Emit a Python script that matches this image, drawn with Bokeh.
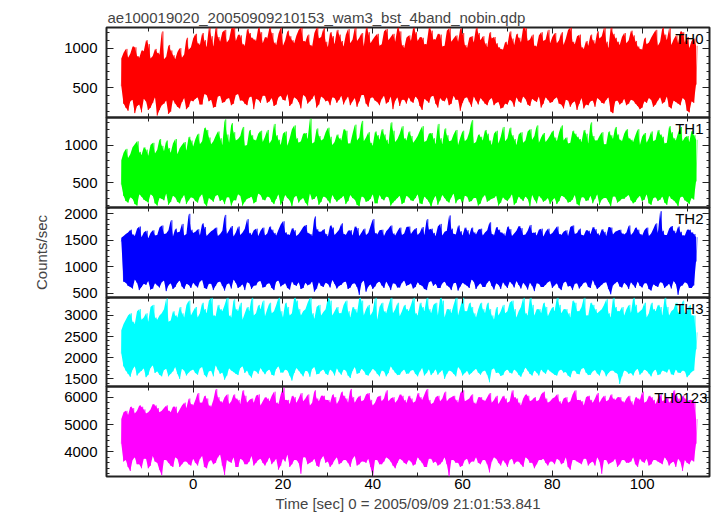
from bokeh.plotting import figure
from bokeh.layouts import column
from bokeh.models import Range1d, LinearAxis, SingleIntervalTicker, Label
from bokeh.embed import file_html
from bokeh.resources import INLINE

FONT = "Liberation Sans"

# time bins (sec): whole seconds (a) and half-second bins (b)
times = list(range(-16, 113))

# ---- TH0 ----
th0_hi = [870, 990, 930, 1010, 880, 960, 1050, 900, 940, 1210, 890, 970, 860, 1000, 920, 980,
          1120, 1060, 1190, 1010, 1150, 1260, 1080, 1230, 1110, 1260, 1170, 1050, 1240, 1130, 1090, 1200,
          1140, 1260, 1070, 1180, 1030, 1220, 1100, 1160, 1260, 1080, 1040, 1190, 1120, 1250, 1010, 1150,
          1230, 1090, 1170, 1060, 1260, 1130, 1020, 1200, 1110, 1180, 1050, 1240, 1140, 1080, 1210, 1000,
          1160, 1260, 1090, 1130, 1050, 1220, 1110, 1170, 1030, 1250, 1120, 1080, 1190, 1000, 1150, 1260,
          1100, 1060, 1200, 1140, 1010, 980, 1040, 1120, 1180, 1070, 1250, 1110, 1030, 1160, 1090, 1230,
          1140, 1060, 1200, 1120, 1260, 1050, 1170, 990, 1030, 1100, 1210, 1150, 1080, 1260, 1130, 1040,
          1190, 1100, 1160, 1020, 980, 1050, 1130, 1230, 1080, 1170, 1250, 1110, 1060, 1200, 1140, 1090, 1030]
th0_lo = [520, 250, 330, 180, 290, 360, 220, 310, 150, 280, 340, 200, 300, 240, 370, 260,
          330, 380, 290, 410, 350, 260, 400, 320, 370, 300, 420, 340, 280, 390, 360, 310,
          400, 330, 270, 380, 350, 420, 300, 360, 240, 390, 330, 410, 290, 370, 340, 380,
          310, 400, 350, 280, 370, 330, 410, 260, 380, 320, 360, 300, 390, 340, 270, 350,
          380, 310, 360, 220, 340, 390, 300, 370, 330, 280, 400, 350, 310, 380, 260, 340,
          370, 300, 350, 280, 320, 250, 290, 330, 380, 310, 360, 270, 340, 390, 300, 350,
          320, 380, 290, 350, 260, 330, 300, 240, 280, 340, 370, 310, 350, 200, 330, 290,
          360, 300, 340, 270, 250, 310, 350, 290, 380, 320, 260, 340, 300, 370, 210, 330, 540]
th0_hi_b = [940, 880, 1020, 900, 970, 1100, 870, 990, 920, 860, 1040, 910, 950, 880, 1130, 1010,
            1180, 1040, 1100, 1260, 1020, 1140, 1200, 1070, 1250, 1090, 1160, 1030, 1190, 1110, 1260, 1060,
            1120, 1190, 1040, 1260, 1100, 1150, 1060, 1230, 1090, 1170, 1020, 1260, 1140, 1080, 1200, 1050,
            1170, 1020, 1240, 1110, 1090, 1190, 1260, 1060, 1150, 1030, 1210, 1100, 1180, 1260, 1040, 1130,
            1090, 1200, 1140, 1050, 1260, 1110, 1180, 1020, 1220, 1080, 1160, 1250, 1040, 1130, 1070, 1190,
            1150, 1010, 1120, 1060, 990, 1080, 1210, 1040, 1130, 1260, 1090, 1170, 1020, 1200, 1110, 1060,
            1190, 1100, 1040, 1230, 1080, 1150, 1010, 1090, 1170, 1050, 1120, 1260, 1000, 1180, 1080, 1140,
            1060, 1220, 1090, 990, 1130, 1070, 1180, 1030, 1260, 1100, 1040, 1160, 1210, 1070, 1000, 1120]
th0_lo_b = [300, 210, 350, 270, 190, 330, 250, 380, 220, 300, 170, 350, 260, 320, 230, 340,
            360, 290, 420, 330, 250, 390, 310, 360, 280, 410, 340, 300, 380, 230, 350, 400,
            310, 370, 290, 400, 340, 270, 380, 320, 410, 300, 360, 250, 390, 330, 280, 370,
            350, 290, 390, 330, 260, 410, 300, 370, 340, 280, 400, 320, 230, 380, 350, 300,
            330, 390, 270, 360, 310, 400, 250, 340, 380, 300, 350, 210, 370, 320, 390, 290,
            340, 280, 370, 310, 240, 300, 350, 260, 330, 390, 290, 360, 320, 250, 380, 310,
            360, 300, 240, 340, 310, 220, 370, 290, 330, 260, 350, 300, 380, 180, 340, 310,
            280, 350, 300, 230, 330, 370, 260, 340, 300, 390, 240, 320, 280, 350, 190, 310]

# ---- TH1 ----
th1_hi = [800, 950, 880, 1010, 910, 970, 860, 1030, 940, 990, 1060, 900, 1080, 960, 1040, 1110,
          980, 1150, 1050, 1200, 1010, 1120, 1090, 1340, 1030, 1170, 1080, 1240, 1000, 1130, 1060, 1190,
          1110, 1020, 1280, 1070, 1150, 990, 1210, 1090, 1050, 1160, 1350, 1040, 1120, 1080, 1230, 1000,
          1140, 1060, 1190, 1020, 1270, 1100, 1050, 1170, 990, 1130, 1210, 1070, 1300, 1040, 1150, 1090,
          1180, 1030, 1120, 1250, 1060, 1160, 1010, 1090, 1220, 1050, 1140, 1000, 1190, 1080, 1330, 1040,
          1110, 1200, 1060, 1150, 1020, 1240, 1090, 1130, 1000, 1170, 1060, 1210, 1120, 1030, 1160, 1080,
          1190, 1050, 1260, 1100, 1030, 1150, 1080, 1200, 1020, 1120, 1060, 1170, 1010, 1130, 1240, 1070,
          1150, 1090, 1040, 1210, 1110, 1030, 1180, 1070, 1140, 1020, 1250, 1090, 1160, 1050, 1120, 1190, 1070]
th1_lo = [480, 260, 310, 220, 350, 280, 240, 330, 200, 290, 360, 250, 310, 230, 340, 270,
          300, 240, 350, 190, 280, 330, 260, 220, 310, 270, 350, 200, 290, 320, 250, 340,
          270, 310, 220, 350, 260, 300, 190, 330, 280, 240, 360, 290, 210, 320, 270, 340,
          250, 300, 220, 340, 280, 190, 310, 260, 350, 230, 290, 320, 200, 270, 330, 240,
          310, 260, 350, 220, 290, 180, 330, 270, 300, 240, 360, 280, 210, 320, 260, 300,
          230, 340, 270, 300, 200, 310, 260, 350, 240, 290, 320, 190, 280, 330, 250, 300,
          270, 220, 330, 290, 250, 340, 200, 310, 270, 230, 350, 280, 300, 190, 320, 260,
          290, 340, 230, 300, 260, 350, 210, 310, 280, 240, 330, 270, 190, 320, 250, 300, 520]
th1_hi_b = [900, 830, 970, 1050, 870, 940, 1000, 890, 1080, 920, 960, 1020, 880, 1000, 930, 1060,
            1080, 1010, 1230, 1100, 1050, 1180, 1000, 1140, 1290, 1060, 1120, 990, 1200, 1070, 1150, 1040,
            1200, 1070, 1130, 1000, 1180, 1090, 1260, 1030, 1150, 1080, 1020, 1220, 1060, 1170, 1110, 1040,
            1090, 1210, 1020, 1150, 1060, 1320, 1100, 1030, 1180, 1070, 1140, 1010, 1190, 1080, 1250, 1060,
            1120, 1070, 1190, 1040, 1150, 1090, 1280, 1010, 1130, 1060, 1200, 1100, 1050, 1170, 1020, 1140,
            1060, 1150, 1000, 1190, 1110, 1050, 1230, 1080, 1140, 1030, 1180, 1070, 1260, 1100, 1040, 1130,
            1100, 1170, 1060, 1020, 1190, 1110, 1040, 1150, 1300, 1060, 1120, 1010, 1180, 1080, 1140, 1050,
            1210, 1070, 1130, 1000, 1160, 1090, 1050, 1200, 1110, 1030, 1170, 1060, 1240, 1100, 1040, 1130]
th1_lo_b = [330, 240, 290, 200, 320, 260, 350, 230, 300, 270, 210, 330, 250, 300, 220, 310,
            260, 320, 230, 300, 250, 340, 280, 310, 200, 270, 330, 250, 300, 230, 360, 280,
            320, 250, 290, 210, 340, 270, 310, 240, 300, 200, 280, 330, 250, 310, 230, 290,
            280, 330, 260, 300, 210, 320, 250, 290, 230, 340, 270, 310, 240, 300, 220, 330,
            270, 300, 230, 320, 250, 280, 210, 340, 260, 310, 230, 290, 330, 250, 300, 200,
            310, 250, 290, 330, 240, 280, 300, 210, 320, 260, 290, 340, 230, 300, 270, 220,
            300, 260, 320, 240, 280, 220, 310, 260, 330, 290, 210, 300, 250, 320, 240, 290,
            320, 270, 250, 330, 280, 230, 300, 260, 320, 210, 290, 240, 310, 270, 220, 280]

# ---- TH2 ----
th2_hi = [1550, 1620, 1700, 1580, 1760, 1650, 1540, 1690, 1600, 1780, 1630, 1880, 1720, 1660, 1590, 2000,
          1640, 1710, 1820, 1580, 1670, 1740, 1620, 1980, 1690, 1570, 1760, 1650, 1900, 1600, 1720, 1680,
          1590, 1760, 1640, 1700, 1860, 1610, 1730, 1580, 1680, 1790, 1620, 1950, 1660, 1710, 1570, 1740,
          1650, 1820, 1600, 1690, 1760, 1580, 1720, 1640, 1900, 1610, 1700, 1670, 1780, 1590, 1740, 1630,
          1760, 1680, 1600, 1750, 1900, 1720, 1580, 1810, 1660, 1970, 1620, 1780, 1590, 1690, 1740, 1610,
          1720, 1650, 1840, 1590, 1700, 1630, 1760, 1580, 1680, 1730, 1610, 1790, 1650, 1700, 1570, 1720,
          1640, 1760, 1600, 1690, 1750, 1620, 1720, 1590, 1680, 1750, 1630, 1710, 1580, 1740, 1660, 1700,
          1610, 1780, 1650, 1700, 1590, 1740, 1630, 1820, 2050, 1600, 1720, 1680, 1760, 1590, 1700, 1650, 1560]
th2_lo = [1480, 700, 620, 760, 560, 680, 730, 590, 650, 710, 540, 690, 620, 740, 580, 660,
          700, 610, 750, 580, 680, 640, 720, 550, 690, 760, 600, 670, 710, 580, 650, 730,
          620, 690, 560, 740, 660, 600, 720, 640, 580, 700, 670, 530, 710, 620, 680, 750,
          590, 660, 720, 610, 690, 470, 740, 630, 580, 700, 650, 720, 560, 680, 610, 740,
          660, 590, 710, 640, 560, 730, 680, 600, 720, 620, 690, 550, 700, 640, 760, 580,
          690, 620, 740, 570, 660, 710, 600, 680, 730, 590, 650, 700, 540, 680, 620, 710,
          600, 690, 560, 720, 640, 680, 590, 700, 620, 750, 580, 660, 710, 480, 690, 630,
          700, 580, 660, 720, 610, 690, 550, 640, 710, 600, 680, 730, 470, 650, 690, 600, 1100]
th2_hi_b = [1580, 1650, 1610, 1720, 1560, 1680, 1640, 1590, 1740, 1620, 1690, 1570, 1650, 1810, 1620, 1700,
            1660, 1590, 1750, 1630, 1700, 1580, 1680, 1620, 1770, 1650, 1600, 1720, 1640, 1690, 1580, 1740,
            1630, 1700, 1590, 1800, 1650, 1600, 1690, 1620, 1750, 1640, 1580, 1710, 1660, 1620, 1780, 1600,
            1700, 1620, 1680, 1590, 1730, 1650, 1600, 1770, 1640, 1690, 1580, 1720, 1630, 1670, 1600, 1750,
            1620, 1730, 1650, 1600, 1700, 1640, 1760, 1590, 1680, 1720, 1610, 1670, 1740, 1600, 1650, 1700,
            1590, 1690, 1620, 1750, 1650, 1580, 1710, 1630, 1770, 1600, 1680, 1640, 1590, 1720, 1660, 1610,
            1700, 1620, 1660, 1580, 1780, 1640, 1600, 1690, 1620, 1710, 1590, 1660, 1750, 1610, 1680, 1630,
            1650, 1600, 1740, 1620, 1690, 1580, 1720, 1640, 1680, 1600, 1770, 1630, 1660, 1590, 1700, 1620]
th2_lo_b = [720, 640, 590, 700, 620, 660, 570, 690, 610, 740, 650, 580, 700, 630, 680, 600,
            650, 720, 600, 680, 560, 710, 640, 670, 590, 700, 630, 560, 690, 640, 720, 610,
            680, 600, 720, 630, 690, 570, 660, 710, 600, 650, 720, 590, 640, 700, 610, 680,
            640, 710, 580, 680, 620, 700, 530, 670, 630, 720, 600, 650, 690, 610, 700, 640,
            690, 620, 660, 580, 710, 640, 600, 690, 650, 560, 700, 630, 670, 600, 720, 650,
            620, 700, 640, 690, 580, 650, 720, 610, 660, 700, 570, 640, 690, 620, 660, 730,
            650, 600, 700, 630, 560, 690, 640, 710, 600, 660, 620, 700, 580, 650, 720, 610,
            660, 710, 600, 640, 690, 580, 670, 620, 700, 640, 590, 680, 630, 710, 600, 650]

# ---- TH3 ----
th3_hi = [2650, 2900, 3050, 2800, 3150, 2950, 2850, 3250, 2900, 3050, 3400, 2880, 3000, 3200, 2950, 3350,
          3100, 2950, 3300, 3050, 3420, 2980, 3150, 3250, 3000, 3380, 3100, 2900, 3200, 3420, 3050, 3150,
          2980, 3300, 3100, 3420, 2950, 3200, 3050, 3350, 3000, 3150, 3420, 2920, 3250, 3080, 3420, 3000,
          3200, 3050, 3350, 2950, 3150, 3420, 3000, 3250, 3100, 2900, 3300, 3050, 3420, 3150, 2980, 3250,
          3100, 3420, 3000, 3200, 3420, 3050, 3300, 3420, 2950, 3150, 3250, 3000, 3420, 3100, 3200, 2950,
          3300, 3050, 3150, 2900, 3000, 3250, 3100, 3350, 2950, 3200, 3050, 3420, 3000, 3150, 3300, 2980,
          3200, 3420, 3050, 3150, 2950, 3300, 3100, 3420, 3000, 3250, 3050, 3150, 3380, 2950, 3200, 3100,
          3000, 3250, 3420, 3050, 3150, 2950, 3300, 3100, 3200, 3420, 3000, 3150, 3050, 3350, 3100, 3000, 2600]
th3_lo = [2100, 1700, 1550, 1800, 1650, 1750, 1600, 1820, 1680, 1560, 1740, 1620, 1780, 1500, 1700, 1650,
          1720, 1600, 1780, 1540, 1690, 1820, 1620, 1480, 1750, 1660, 1590, 1800, 1700, 1530, 1680, 1760,
          1610, 1720, 1580, 1800, 1650, 1700, 1460, 1760, 1630, 1690, 1550, 1780, 1620, 1720, 1590, 1680,
          1750, 1600, 1700, 1520, 1780, 1640, 1690, 1580, 1740, 1620, 1700, 1560, 1800, 1650, 1600, 1720,
          1630, 1710, 1560, 1760, 1640, 1590, 1730, 1660, 1500, 1700, 1620, 1780, 1580, 1690, 1640, 1740,
          1600, 1700, 1420, 1750, 1650, 1590, 1720, 1630, 1680, 1550, 1770, 1620, 1700, 1580, 1660, 1730,
          1640, 1580, 1720, 1660, 1540, 1700, 1610, 1760, 1590, 1680, 1630, 1720, 1560, 1690, 1650, 1380,
          1700, 1620, 1580, 1740, 1650, 1690, 1560, 1720, 1610, 1680, 1740, 1590, 1650, 1700, 1540, 1660, 2200]
th3_hi_b = [2800, 3000, 2850, 3100, 2900, 3050, 3200, 2950, 3000, 3150, 2850, 3100, 2950, 3050, 3250, 3000,
            3200, 3050, 3150, 3350, 3000, 3250, 3100, 3420, 2950, 3150, 3300, 3050, 3100, 3000, 3250, 3350,
            3150, 3050, 3250, 3100, 3300, 3000, 3420, 3150, 3100, 3300, 3050, 3200, 3000, 3150, 3350, 3100,
            3050, 3250, 3100, 3200, 3050, 3350, 3150, 3000, 3420, 3200, 3100, 3250, 3050, 3300, 3100, 3150,
            3250, 3050, 3300, 3100, 3150, 3250, 3000, 3350, 3150, 3050, 3420, 3200, 3100, 3300, 3050, 3150,
            3150, 3300, 3000, 3200, 3100, 3050, 3300, 3150, 3100, 3420, 3000, 3250, 3150, 3050, 3200, 3100,
            3100, 3250, 3150, 3050, 3350, 3100, 3200, 3000, 3300, 3150, 3100, 3250, 3050, 3420, 3100, 3200,
            3150, 3050, 3250, 3100, 3300, 3050, 3150, 3250, 3000, 3200, 3100, 3300, 3150, 3050, 3250, 3000]
th3_lo_b = [1800, 1620, 1720, 1580, 1690, 1540, 1760, 1640, 1600, 1710, 1560, 1680, 1620, 1740, 1580, 1700,
            1640, 1750, 1600, 1680, 1560, 1720, 1650, 1580, 1700, 1620, 1760, 1640, 1590, 1700, 1620, 1680,
            1690, 1600, 1740, 1650, 1720, 1580, 1640, 1700, 1560, 1680, 1740, 1610, 1690, 1630, 1720, 1580,
            1660, 1720, 1580, 1690, 1620, 1740, 1600, 1660, 1700, 1560, 1680, 1640, 1720, 1590, 1680, 1620,
            1700, 1620, 1680, 1580, 1730, 1650, 1600, 1710, 1620, 1680, 1560, 1720, 1640, 1600, 1700, 1650,
            1680, 1600, 1720, 1640, 1570, 1690, 1650, 1720, 1600, 1660, 1700, 1580, 1650, 1720, 1620, 1680,
            1600, 1700, 1650, 1580, 1690, 1620, 1740, 1650, 1600, 1710, 1580, 1680, 1640, 1700, 1620, 1560,
            1680, 1640, 1700, 1600, 1720, 1630, 1680, 1590, 1700, 1650, 1610, 1720, 1640, 1680, 1600, 1700]

# ---- TH0123 ----
th0123_hi = [5200, 5500, 5650, 5400, 5700, 5550, 5450, 5750, 5600, 5500, 5700, 5450, 5650, 5550, 5800, 5950,
             5700, 6150, 5800, 5950, 5650, 6300, 5850, 6000, 5750, 6100, 5900, 6250, 5800, 5950, 6050, 5700,
             6000, 5850, 6200, 5750, 6350, 5900, 6050, 5800, 6150, 5950, 5700, 6250, 5850, 6050, 5900, 6100,
             5750, 6200, 5950, 6300, 5800, 6050, 5900, 6150, 5700, 6000, 5850, 6250, 5950, 5800, 6100, 5900,
             6050, 5800, 6150, 5900, 6300, 5750, 6000, 5850, 6200, 5950, 6050, 5800, 6250, 5900, 6100, 5750,
             6000, 5850, 6150, 5900, 5750, 6050, 5800, 6250, 5950, 5700, 6100, 5850, 6000, 5900, 6200, 5800,
             5950, 6100, 5750, 6000, 5850, 6250, 5900, 5700, 6050, 5800, 6150, 5950, 5850, 6100, 5900, 6000,
             5800, 6050, 5700, 5950, 6200, 5850, 6000, 5750, 6100, 5900, 5800, 6250, 5950, 6050, 5850, 5900, 5200]
th0123_lo = [4300, 3700, 3300, 3800, 3550, 3750, 3400, 3850, 3600, 3150, 3700, 3500, 3800, 3450, 3650, 3550,
             3750, 3500, 3850, 3400, 3700, 3600, 3900, 3150, 3650, 3800, 3450, 3700, 3550, 3850, 3600, 3750,
             3500, 3800, 3650, 3350, 3750, 3900, 3550, 3700, 3200, 3800, 3600, 3750, 3450, 3850, 3650, 3550,
             3800, 3600, 3700, 3450, 3850, 3550, 3650, 3750, 3100, 3700, 3550, 3800, 3650, 3400, 3750, 3600,
             3700, 3500, 3800, 3600, 3450, 3750, 3650, 3550, 3800, 3100, 3700, 3600, 3500, 3750, 3650, 3800,
             3550, 3700, 3250, 3800, 3600, 3700, 3450, 3750, 3650, 3550, 3800, 3600, 3400, 3700, 3750, 3500,
             3650, 3750, 3550, 3800, 3350, 3700, 3600, 3750, 3500, 3650, 3800, 3200, 3700, 3600, 3750, 3550,
             3700, 3600, 3800, 3450, 3650, 3750, 3550, 3700, 3600, 3800, 3500, 3650, 3750, 3300, 3600, 3700, 4300]
th0123_hi_b = [5450, 5350, 5600, 5500, 5650, 5400, 5550, 5700, 5450, 5600, 5500, 5650, 5400, 5700, 5600, 5750,
               5900, 5800, 6050, 5700, 5900, 6000, 5800, 6100, 5850, 5950, 5750, 6050, 5900, 5800, 6100, 5850,
               5950, 6050, 5800, 6100, 5900, 5750, 6000, 5950, 5850, 6100, 5800, 5950, 6050, 5900, 5800, 6000,
               5900, 6050, 5800, 6000, 5950, 5850, 6100, 5900, 5800, 6050, 5950, 5850, 6000, 5900, 6050, 5800,
               5950, 5850, 6000, 6100, 5900, 5800, 6050, 5950, 5850, 6000, 5900, 6150, 5850, 5950, 5800, 6000,
               5900, 6000, 5800, 6050, 5900, 5950, 5850, 6000, 5800, 5950, 6050, 5900, 5850, 6100, 5950, 5850,
               6000, 5850, 5950, 5800, 6100, 5900, 5850, 6000, 5900, 5950, 5800, 6050, 5900, 5950, 6000, 5850,
               5950, 5850, 6000, 5900, 5800, 6050, 5900, 5950, 5850, 6000, 5900, 6050, 5800, 5950, 5900, 5850]
th0123_lo_b = [3650, 3450, 3700, 3550, 3400, 3750, 3500, 3650, 3350, 3700, 3600, 3450, 3750, 3550, 3650, 3500,
               3600, 3750, 3450, 3650, 3550, 3800, 3500, 3700, 3600, 3450, 3750, 3550, 3650, 3500, 3700, 3600,
               3650, 3550, 3750, 3500, 3650, 3450, 3700, 3600, 3800, 3550, 3650, 3500, 3750, 3600, 3450, 3700,
               3550, 3700, 3600, 3750, 3500, 3650, 3600, 3450, 3700, 3550, 3650, 3750, 3500, 3600, 3700, 3550,
               3650, 3550, 3700, 3450, 3750, 3600, 3500, 3650, 3550, 3700, 3600, 3450, 3700, 3550, 3650, 3600,
               3700, 3550, 3650, 3750, 3500, 3600, 3700, 3550, 3650, 3450, 3750, 3600, 3550, 3700, 3600, 3650,
               3550, 3700, 3600, 3450, 3700, 3650, 3550, 3750, 3600, 3500, 3650, 3700, 3550, 3650, 3450, 3700,
               3600, 3650, 3550, 3750, 3600, 3500, 3700, 3650, 3550, 3700, 3600, 3450, 3650, 3700, 3550, 3650]

names = ["TH0", "TH1", "TH2", "TH3", "TH0123"]
colors = ["#ff0000", "#00ff00", "#0000ff", "#00ffff", "#ff00ff"]
his = [th0_hi, th1_hi, th2_hi, th3_hi, th0123_hi]
los = [th0_lo, th1_lo, th2_lo, th3_lo, th0123_lo]
his_b = [th0_hi_b, th1_hi_b, th2_hi_b, th3_hi_b, th0123_hi_b]
los_b = [th0_lo_b, th1_lo_b, th2_lo_b, th3_lo_b, th0123_lo_b]
y_ranges = [(125, 1260), (175, 1365), (420, 2120), (1320, 3425), (3100, 6390)]
y_steps = [500, 500, 500, 500, 1000]
x_range = (-19.3, 115.0)
title_text = "ae100019020_20050909210153_wam3_bst_4band_nobin.qdp"
x_label = "Time [sec] 0 = 2005/09/09 21:01:53.841"
y_label = "Counts/sec"

for arr in his + los:
    assert len(arr) == len(times), len(arr)
for arr in his_b + los_b:
    assert len(arr) == len(times) - 1, len(arr)

frame_heights = [90, 90, 90, 89, 90]
label_dx = [-6, -6, -6, -6, -2]
INK = "#222222"
PAD = 8


def style_axis(ax, tick_in, minor_in, labels):
    ax.axis_line_color = None
    ax.major_tick_in = tick_in
    ax.major_tick_out = 0
    ax.minor_tick_in = minor_in
    ax.minor_tick_out = 0
    ax.major_tick_line_color = INK
    ax.minor_tick_line_color = INK
    if labels:
        ax.major_label_text_font = FONT
        ax.major_label_text_font_size = "15px"
        ax.major_label_text_color = "black"
    else:
        ax.major_label_text_font_size = "0px"
        ax.major_label_text_color = None
        ax.major_label_standoff = 0


figs = []
for i in range(5):
    first = i == 0
    last = i == 4
    p = figure(frame_width=603, frame_height=frame_heights[i],
               x_range=Range1d(*x_range), y_range=Range1d(*y_ranges[i]),
               output_backend="svg", toolbar_location=None,
               x_axis_location=None, y_axis_location=None,
               min_border_left=106, min_border_right=7,
               min_border_top=27 if first else PAD,
               min_border_bottom=39 if last else PAD,
               title=title_text if first else None)
    if not first:
        p.margin = (-2 * PAD, 0, 0, 0)
    p.grid.grid_line_color = None
    p.outline_line_color = INK
    p.outline_line_width = 2
    p.background_fill_color = None
    p.border_fill_color = None

    if first:
        p.title.text_font = FONT
        p.title.text_font_size = "15px"
        p.title.text_font_style = "normal"
        p.title.align = "left"
        p.title.standoff = 4
        p.title.offset = 1

    left = LinearAxis(ticker=SingleIntervalTicker(interval=y_steps[i], num_minor_ticks=5))
    style_axis(left, 7, 3, True)
    left.major_label_standoff = 9
    if i == 2:
        left.axis_label = y_label
        left.axis_label_text_font = FONT
        left.axis_label_text_font_size = "15px"
        left.axis_label_text_font_style = "normal"
        left.axis_label_standoff = 11
    p.add_layout(left, "left")

    right = LinearAxis(ticker=SingleIntervalTicker(interval=y_steps[i], num_minor_ticks=5))
    style_axis(right, 7, 3, False)
    p.add_layout(right, "right")

    top = LinearAxis(ticker=SingleIntervalTicker(interval=20, num_minor_ticks=2))
    style_axis(top, 6, 4, False)
    p.add_layout(top, "above")

    bottom = LinearAxis(ticker=SingleIntervalTicker(interval=20, num_minor_ticks=2))
    style_axis(bottom, 6, 4, last)
    if last:
        bottom.major_label_standoff = 2
        bottom.axis_label = x_label
        bottom.axis_label_text_font = FONT
        bottom.axis_label_text_font_size = "15px"
        bottom.axis_label_text_font_style = "normal"
        bottom.axis_label_standoff = 3
    p.add_layout(bottom, "below")

    # band between the per-bin minima and maxima (whole and half-second bins)
    xs, y_lo, y_hi = [], [], []
    zx, zy = [], []
    for k, t in enumerate(times):
        xs.append(t)
        y_lo.append(los[i][k])
        y_hi.append(his[i][k])
        zx += [t, t + 0.25]
        zy += [los[i][k], his[i][k]]
        if k < len(times) - 1:
            xs.append(t + 0.5)
            y_lo.append(los_b[i][k])
            y_hi.append(his_b[i][k])
            zx += [t + 0.5, t + 0.75]
            zy += [los_b[i][k], his_b[i][k]]
    p.varea(x=xs, y1=y_lo, y2=y_hi, fill_color=colors[i])
    p.line(zx, zy, line_color=colors[i], line_width=1, line_alpha=0.6)

    p.add_layout(Label(x=x_range[1], y=y_ranges[i][1], x_offset=label_dx[i], y_offset=-2,
                       text=names[i], text_align="right", text_baseline="top",
                       text_font=FONT, text_font_size="15px", text_color="black"))
    figs.append(p)

layout = column(*figs, spacing=0)
open("out.html", "w").write(file_html(layout, INLINE))
